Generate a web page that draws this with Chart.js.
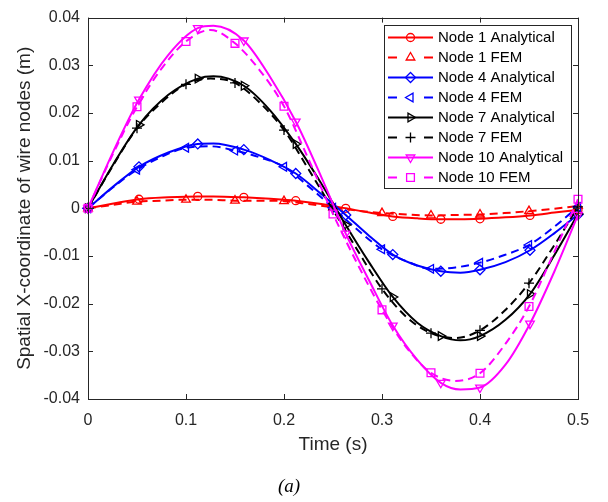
<!DOCTYPE html>
<html>
<head>
<meta charset="utf-8">
<script src="https://cdn.jsdelivr.net/npm/chart.js@4.4.1/dist/chart.umd.min.js"></script>
<style>
  html, body { margin: 0; padding: 0; background: #fff; }
  #wrap { width: 608px; height: 502px; }
</style>
</head>
<body>
<div id="wrap"><canvas id="chart" width="608" height="502"></canvas></div>
<script>
// sample times (markers sit on every other sample)
const tAnalytical = [0, 0.026, 0.052, 0.082, 0.112, 0.128, 0.159, 0.186, 0.212, 0.238, 0.263,
  0.287, 0.311, 0.336, 0.360, 0.380, 0.400, 0.426, 0.451, 0.476, 0.500];
const tFem = [0, 0.025, 0.05, 0.075, 0.1, 0.125, 0.15, 0.175, 0.2, 0.225, 0.25,
  0.275, 0.3, 0.325, 0.35, 0.375, 0.4, 0.425, 0.45, 0.475, 0.5];

const node1Analytical = [0, 0.0010, 0.0019, 0.0023, 0.0025, 0.0025, 0.0023, 0.0020, 0.0016, 0.0009, 0.0000,
  -0.0009, -0.0017, -0.0021, -0.0023, -0.0023, -0.0022, -0.0019, -0.0015, -0.0009, -0.0003];
const node1Fem = [0, 0.0007, 0.0014, 0.0016, 0.0018, 0.0018, 0.0016, 0.0016, 0.0015, 0.0009, 0.0002,
  -0.0005, -0.0010, -0.0013, -0.0015, -0.0014, -0.0013, -0.0010, -0.0006, -0.0001, 0.0005];
const node4Analytical = [0, 0.0046, 0.0087, 0.0117, 0.0135, 0.0136, 0.0123, 0.0101, 0.0073, 0.0030, -0.0014,
  -0.0058, -0.0097, -0.0120, -0.0132, -0.0135, -0.0129, -0.0113, -0.0088, -0.0052, -0.0013];
const node4Fem = [0, 0.0043, 0.0081, 0.0108, 0.0127, 0.0130, 0.0121, 0.0107, 0.0087, 0.0046, 0.0001,
  -0.0045, -0.0086, -0.0111, -0.0127, -0.0124, -0.0114, -0.0098, -0.0077, -0.0040, 0.0003];
const node7Analytical = [0, 0.0093, 0.0175, 0.0238, 0.0272, 0.0277, 0.0257, 0.0205, 0.0135, 0.0052, -0.0035,
  -0.0114, -0.0186, -0.0240, -0.0268, -0.0277, -0.0268, -0.0234, -0.0180, -0.0098, -0.0012];
const node7Fem = [0, 0.0088, 0.0168, 0.0222, 0.0260, 0.0272, 0.0263, 0.0222, 0.0164, 0.0082, -0.0003,
  -0.0088, -0.0169, -0.0228, -0.0262, -0.0272, -0.0256, -0.0215, -0.0157, -0.0080, 0.0003];
const node10Analytical = [0, 0.0120, 0.0228, 0.0322, 0.0378, 0.0383, 0.0352, 0.0275, 0.0182, 0.0066, -0.0053,
  -0.0152, -0.0246, -0.0318, -0.0366, -0.0380, -0.0376, -0.0328, -0.0242, -0.0132, -0.0014];
const node10Fem = [0, 0.0112, 0.0213, 0.0293, 0.0350, 0.0374, 0.0346, 0.0290, 0.0214, 0.0103, -0.0012,
  -0.0117, -0.0213, -0.0292, -0.0345, -0.0362, -0.0346, -0.0287, -0.0206, -0.0095, 0.0019];

const xTickLabels = ['0', '0.1', '0.2', '0.3', '0.4', '0.5'];
const yTickLabels = ['-0.04', '-0.03', '-0.02', '-0.01', '0', '0.01', '0.02', '0.03', '0.04'];

const SANS = '"Liberation Sans", Arial, Helvetica, sans-serif';
const AXIS = '#262626';

const series = [
  { label: 'Node 1 Analytical', t: tAnalytical, y: node1Analytical, color: '#ff0000', dashed: false, marker: 'circle', rot: 0, r: 4 },
  { label: 'Node 1 FEM', t: tFem, y: node1Fem, color: '#ff0000', dashed: true, marker: 'triangle', rot: 0, r: 5 },
  { label: 'Node 4 Analytical', t: tAnalytical, y: node4Analytical, color: '#0000ff', dashed: false, marker: 'rectRot', rot: 0, r: 5 },
  { label: 'Node 4 FEM', t: tFem, y: node4Fem, color: '#0000ff', dashed: true, marker: 'triangle', rot: -90, r: 5 },
  { label: 'Node 7 Analytical', t: tAnalytical, y: node7Analytical, color: '#000000', dashed: false, marker: 'triangle', rot: 90, r: 5 },
  { label: 'Node 7 FEM', t: tFem, y: node7Fem, color: '#000000', dashed: true, marker: 'cross', rot: 0, r: 5 },
  { label: 'Node 10 Analytical', t: tAnalytical, y: node10Analytical, color: '#ff00ff', dashed: false, marker: 'triangle', rot: 180, r: 5 },
  { label: 'Node 10 FEM', t: tFem, y: node10Fem, color: '#ff00ff', dashed: true, marker: 'rect', rot: 0, r: 5.5 },
];

const datasets = series.map((s, i) => ({
  label: s.label,
  data: s.t.map((t, k) => ({ x: t, y: s.y[k] })),
  borderColor: s.color,
  borderWidth: 2,
  borderDash: s.dashed ? [8, 5] : [],
  pointStyle: s.marker,
  pointRotation: s.rot,
  pointRadius: (ctx) => (ctx.dataIndex % 2 === 0 ? s.r : 0),
  pointBorderColor: s.color,
  pointBackgroundColor: 'rgba(0,0,0,0)',
  pointBorderWidth: 1.3,
  cubicInterpolationMode: 'monotone',
  fill: false,
  clip: 10,
  order: series.length - i, // later series on top, like matlab
}));

// box + inward ticks on all four sides
const frame = {
  id: 'frame',
  afterDatasetsDraw(chart) {
    const { ctx, chartArea: a, scales: { x, y } } = chart;
    const len = 5;
    ctx.save();
    ctx.strokeStyle = AXIS;
    ctx.lineWidth = 1;
    ctx.setLineDash([]);
    ctx.beginPath();
    x.ticks.forEach((t) => {
      const px = Math.round(x.getPixelForValue(t.value)) + 0.5;
      ctx.moveTo(px, a.bottom); ctx.lineTo(px, a.bottom - len);
      ctx.moveTo(px, a.top); ctx.lineTo(px, a.top + len);
    });
    y.ticks.forEach((t) => {
      const py = Math.round(y.getPixelForValue(t.value)) + 0.5;
      ctx.moveTo(a.left, py); ctx.lineTo(a.left + len, py);
      ctx.moveTo(a.right, py); ctx.lineTo(a.right - len, py);
    });
    ctx.stroke();
    ctx.strokeRect(Math.round(a.left) + 0.5, Math.round(a.top) + 0.5,
      Math.round(a.right - a.left), Math.round(a.bottom - a.top));
    ctx.restore();
  },
};

// matlab style legend: line with marker in the middle
const legendBox = {
  id: 'legendBox',
  afterDraw(chart) {
    const ctx = chart.ctx;
    const left = 384, top = 25, w = 187, rowH = 20;
    const h = series.length * rowH + 3;
    ctx.save();
    ctx.fillStyle = '#fff';
    ctx.fillRect(left, top, w, h);
    ctx.strokeStyle = AXIS;
    ctx.lineWidth = 1;
    ctx.strokeRect(left + 0.5, top + 0.5, w, h);

    chart.data.datasets.forEach((ds, i) => {
      const s = series[i];
      const cy = top + 12.5 + i * rowH;
      const x0 = left + 4, x1 = left + 49, xm = (x0 + x1) / 2;
      ctx.strokeStyle = s.color;
      ctx.lineWidth = 2;
      ctx.setLineDash(s.dashed ? [9, 27] : []);
      ctx.beginPath();
      ctx.moveTo(x0, cy);
      ctx.lineTo(x1, cy);
      ctx.stroke();
      ctx.setLineDash([]);
      ctx.lineWidth = 1.3;
      ctx.fillStyle = 'rgba(0,0,0,0)';
      Chart.helpers.drawPoint(ctx, { pointStyle: s.marker, rotation: s.rot, radius: s.r, borderWidth: 1.3 }, xm, cy);
      ctx.fillStyle = '#000';
      ctx.font = '15px ' + SANS;
      ctx.textAlign = 'left';
      ctx.textBaseline = 'middle';
      ctx.fillText(ds.label, left + 54, cy);
    });
    ctx.restore();
  },
};

new Chart(document.getElementById('chart'), {
  type: 'line',
  data: { datasets },
  options: {
    responsive: false,
    animation: false,
    events: [],
    layout: { padding: { top: 13, right: 30, bottom: 0, left: 0 } },
    plugins: {
      legend: { display: false },
      tooltip: { enabled: false },
      title: {
        display: true,
        position: 'bottom',
        text: '(a)',
        color: '#000',
        font: { family: '"Liberation Serif", "Times New Roman", serif', size: 19, style: 'italic', weight: 'normal', lineHeight: 1.2 },
        padding: { top: 0, bottom: 3.6 },
      },
    },
    scales: {
      x: {
        type: 'linear',
        min: 0,
        max: 0.5,
        grid: { display: false, drawTicks: false },
        border: { display: false },
        ticks: {
          stepSize: 0.1,
          padding: 12,
          maxRotation: 0,
          autoSkip: false,
          color: AXIS,
          font: { family: SANS, size: 16 },
          callback: (v, i) => xTickLabels[i],
        },
        title: {
          display: true,
          text: 'Time (s)',
          color: AXIS,
          font: { family: SANS, size: 19 },
          padding: { top: 0, bottom: 19.2 },
        },
        afterFit: (s) => { s.height = 76.6; },
      },
      y: {
        min: -0.04,
        max: 0.04,
        grid: { display: false, drawTicks: false },
        border: { display: false },
        ticks: {
          stepSize: 0.01,
          padding: 8,
          autoSkip: false,
          color: AXIS,
          font: { family: SANS, size: 16 },
          callback: (v, i) => yTickLabels[i],
        },
        title: {
          display: true,
          text: 'Spatial X-coordinate of wire nodes (m)',
          color: AXIS,
          font: { family: SANS, size: 19 },
          padding: { top: 13, bottom: 0 },
        },
        afterFit: (s) => { s.width = 88; },
      },
    },
  },
  plugins: [frame, legendBox],
});
</script>
</body>
</html>
